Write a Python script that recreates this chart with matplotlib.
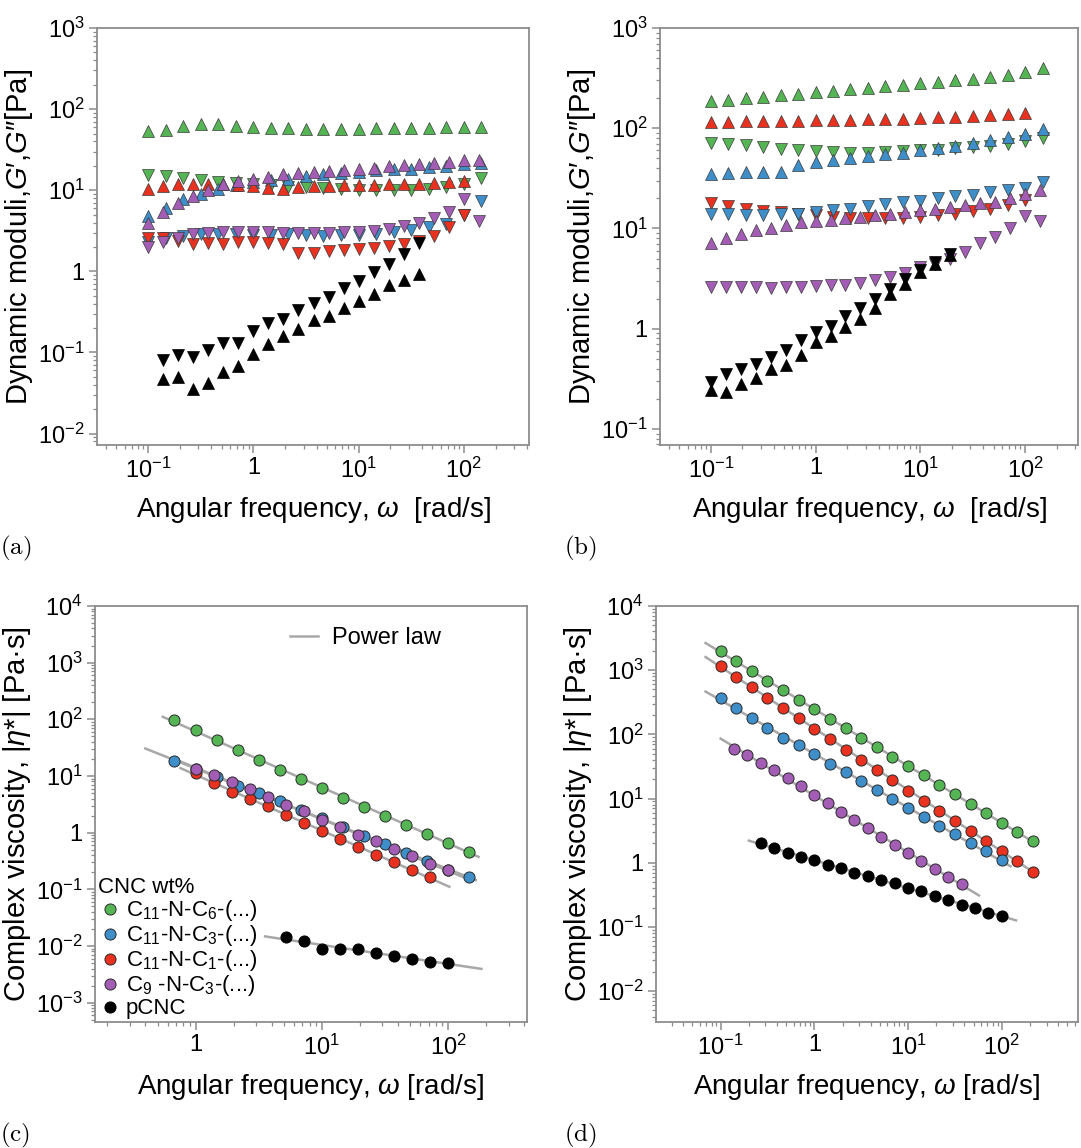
import numpy as np
import matplotlib
matplotlib.use("Agg")
import matplotlib.pyplot as plt
from matplotlib.ticker import LogLocator, FuncFormatter, NullFormatter
from matplotlib.lines import Line2D

plt.rcParams['font.family'] = ['Liberation Sans', 'DejaVu Sans']
plt.rcParams['mathtext.fontset'] = 'custom'
plt.rcParams['mathtext.rm'] = 'Liberation Sans'
plt.rcParams['mathtext.it'] = 'Liberation Sans:italic'
plt.rcParams['mathtext.bf'] = 'Liberation Sans:bold'

# ---------------- frequencies (rad/s) ----------------
w6 = [0.1, 0.147, 0.215, 0.316, 0.464, 0.681, 1.0, 1.47, 2.15, 3.16, 4.64, 6.81,
      10.0, 14.7, 21.5, 31.6, 46.4, 68.1, 100.0, 147.0, 215.0]
w7 = [0.1, 0.139, 0.193, 0.268, 0.373, 0.518, 0.72, 1.0, 1.39, 1.93, 2.68, 3.73,
      5.18, 7.2, 10.0, 13.9, 19.3, 26.8, 37.3, 51.8, 72.0, 100.0, 139.0]

# ---------------- panel (a): G' (up) and G'' (down) ----------------
a_green_w = w6[:20]
a_green_Gp = [54, 56, 62, 65, 65, 62, 60, 59, 58, 57, 57, 57, 57, 58, 58, 59, 59, 60, 60, 61]
a_green_Gpp = [15.3, 15, 14.2, 13.5, 12.8, 12.2, 11.8, 11.5, 11, 11, 10.8, 10.5, 10.2, 10.2,
               10, 10.2, 10.4, 11, 11.8, 14]
a_blue_w = w6[:20]
a_blue_Gp = [4.8, 6.1, 7.7, 9.1, 10.5, 11.5, 12.7, 13.3, 13.9, 14.9, 15.8, 16.4, 16.8, 17.7,
             18.5, 18.5, 19.4, 19.8, 21, 21.4]
a_blue_Gpp = [2.3, 2.6, 2.7, 2.86, 2.86, 2.86, 2.78, 2.78, 2.86, 2.78, 2.7, 2.78, 2.78, 2.92,
              3.06, 3.2, 3.5, 3.8, 4.9, 7.4]
a_red_w = w7[:22]
a_red_Gp = [10.5, 11.2, 11.8, 12.1, 12.1, 11.8, 11.5, 11.3, 10.8, 10.5, 11, 11.2, 11.2, 11.5,
            11.5, 11.5, 11.8, 12, 12.1, 12.4, 12.8, 13]
a_red_Gpp = [2.6, 2.6, 2.35, 2.15, 2.25, 2.2, 2.3, 2.3, 2.25, 2.15, 1.7, 1.7, 1.8, 1.85, 1.9,
             1.95, 2.05, 2.2, 2.4, 2.75, 3.5, 4.9]
a_purple_w = w7[:23]
a_purple_Gp = [3.95, 5.4, 7.0, 8.5, 10.2, 11.9, 13, 13.9, 14.6, 15.8, 16.1, 16.8, 17.3, 18,
               18.5, 19, 19.8, 20.4, 21, 21.7, 22.4, 23.4, 23.4]
a_purple_Gpp = [2.0, 2.3, 2.6, 2.86, 2.97, 3.03, 3.03, 3.03, 3.03, 2.97, 2.97, 2.97, 2.97, 3.03,
                3.06, 3.15, 3.37, 3.6, 3.9, 4.5, 5.4, 7.7, 4.2]
a_black_w = w7[1:19]
a_black_Gp = [0.047, 0.05, 0.035, 0.042, 0.057, 0.069, 0.096, 0.128, 0.158, 0.196, 0.254,
              0.278, 0.356, 0.43, 0.53, 0.67, 0.79, 0.94]
a_black_Gpp = [0.081, 0.094, 0.087, 0.108, 0.13, 0.13, 0.183, 0.23, 0.26, 0.33, 0.41, 0.48,
               0.63, 0.77, 0.98, 1.24, 1.62, 2.23]

# ---------------- panel (b) ----------------
b_green_w = w6[:20]
b_green_Gp = [185, 192, 200, 207, 214, 221, 229, 236, 244, 252, 261, 270, 280, 290, 301, 313,
              326, 342, 365, 400]
b_green_Gpp = [72, 70, 68, 65, 62, 60, 59, 58, 57, 57, 58, 59, 60, 61, 63, 65, 67, 70, 74, 80]
b_red_w = w6[:19]
b_red_Gp = [115, 116, 117, 118, 118, 119, 120, 121, 122, 123, 124, 125, 127, 128, 130, 132,
            135, 138, 142]
b_red_Gpp = [17.8, 16.7, 15.8, 14.9, 14.7, 14.1, 13.6, 13.1, 12.8, 12.8, 12.8, 12.8, 13.1,
             13.6, 14.1, 14.9, 15.8, 17.1, 19.2]
b_blue_w = w6[:20]
b_blue_Gp = [34.7, 35.5, 36.3, 37, 36.3, 43, 45.7, 48.3, 51, 53.3, 55, 56.2, 60, 63, 67, 71,
             76, 82, 88, 98]
b_blue_Gpp = [14.1, 13.8, 13.6, 13.6, 14.1, 14.1, 14.7, 15.3, 15.8, 16.9, 17.4, 18.5, 18.8,
              20, 21.3, 21.6, 22.9, 24.2, 25.6, 28.8]
b_purple_w = w7[:23]
b_purple_Gp = [7.24, 8.1, 8.9, 9.6, 10.2, 10.8, 11.5, 11.9, 12.1, 12.8, 13.1, 13.6, 13.8,
               14.7, 15.3, 15.8, 16.4, 17.1, 17.8, 18.5, 20.3, 21.9, 24.2]
b_purple_Gpp = [2.61, 2.61, 2.61, 2.61, 2.55, 2.61, 2.61, 2.67, 2.71, 2.75, 2.88, 3.04, 3.28,
                3.63, 4.14, 4.47, 4.94, 5.85, 7.24, 8.25, 10.2, 13.4, 11.8]
b_black_w = w7[:17]
b_black_Gp = [0.245, 0.236, 0.282, 0.32, 0.4, 0.43, 0.55, 0.74, 0.85, 1.04, 1.26, 1.62, 2.24,
              2.82, 3.7, 4.47, 5.4]
b_black_Gpp = [0.293, 0.355, 0.398, 0.447, 0.52, 0.62, 0.765, 0.93, 1.07, 1.34, 1.62, 2.0,
               2.5, 3.16, 3.83, 4.64, 5.6]

# ---------------- panel (c): complex viscosity ----------------
c_green_w = w6[5:20]
c_green_eta = [96, 64, 42.5, 28.2, 18.8, 12.9, 8.9, 6.1, 4.16, 2.88, 2.0, 1.39, 0.96, 0.665, 0.46]
c_blue_w = w6[5:20]
c_blue_eta = [18.3, 13.4, 9.7, 6.6, 5.0, 3.58, 2.55, 1.82, 1.26, 0.885, 0.64, 0.437, 0.31,
              0.22, 0.164]
c_red_w = w7[7:21]
c_red_eta = [11.4, 7.6, 5.17, 3.95, 2.92, 2.08, 1.48, 1.05, 0.77, 0.56, 0.41, 0.30, 0.22, 0.164]
c_purple_w = w7[7:22]
c_purple_eta = [13.4, 10.6, 7.8, 5.77, 4.28, 3.13, 2.38, 1.7, 1.26, 0.92, 0.70, 0.515, 0.38,
                0.282, 0.215]
c_black_w = w7[12:22]
c_black_eta = [0.0143, 0.0124, 0.00885, 0.0088, 0.0088, 0.0074, 0.0067, 0.006, 0.0053, 0.0051]
c_fit_range = {'green': (0.55, 174), 'blue': (0.40, 165), 'red': (0.76, 102),
               'purple': (0.76, 150), 'black': (3.55, 183)}

# ---------------- panel (d) ----------------
d_green_w = w6[:21]
d_green_eta = [1980, 1370, 963, 680, 487, 348, 246, 173, 124, 87.5, 62.7, 44.9, 32, 22.9, 16.4,
               11.7, 8.27, 5.9, 4.2, 3.0, 2.15]
d_red_w = w6[:21]
d_red_eta = [1155, 785, 548, 374, 258, 178, 123, 85.7, 57.7, 39.2, 28.1, 19.6, 13.3, 9.3, 6.5,
             4.53, 3.16, 2.2, 1.54, 1.05, 0.73]
d_blue_w = w6[:19]
d_blue_eta = [369, 261, 182, 127, 87.5, 67.3, 48.7, 34.8, 25.5, 18.6, 13.7, 9.75, 7.17, 5.23,
              3.79, 2.8, 2.0, 1.5, 1.1]
d_purple_w = w7[1:19]
d_purple_eta = [59.8, 47, 35.6, 27.4, 20.7, 15.4, 11.5, 8.57, 6.27, 4.65, 3.43, 2.48, 1.89,
                1.42, 1.07, 0.8, 0.6, 0.465]
d_black_w = w7[3:22]
d_black_eta = [2.0, 1.70, 1.40, 1.24, 1.10, 0.93, 0.83, 0.70, 0.63, 0.54, 0.475, 0.40, 0.357,
               0.305, 0.26, 0.22, 0.196, 0.167, 0.149]
d_fit_range = {'green': (0.069, 238), 'red': (0.069, 238), 'blue': (0.069, 124),
               'purple': (0.1, 57), 'black': (0.2, 142)}

legend_labels = [r"C$_{11}$-N-C$_{6}$-(...)", r"C$_{11}$-N-C$_{3}$-(...)",
                 r"C$_{11}$-N-C$_{1}$-(...)", r"C$_{9}$ -N-C$_{3}$-(...)", "pCNC"]

COL = {'green': '#55b555', 'blue': '#3d8ec9', 'red': '#e8311f', 'purple': '#a35db5',
       'black': '#000000'}
SPINE = '#8c8c8c'
FIT = '#a8a8a8'

fig = plt.figure(figsize=(10.81, 11.48), dpi=100)


def fmt(v, pos):
    e = int(round(np.log10(v)))
    if e == 0:
        return '1'
    return r'$10^{%d}$' % e


def style(ax, xlim, ylim):
    ax.set_xscale('log')
    ax.set_yscale('log')
    ax.set_xlim(*xlim)
    ax.set_ylim(*ylim)
    for s in ax.spines.values():
        s.set_color(SPINE)
        s.set_linewidth(1.3)
    for axis in (ax.xaxis, ax.yaxis):
        axis.set_major_locator(LogLocator(base=10, numticks=20))
        axis.set_minor_locator(LogLocator(base=10, subs=np.arange(2, 10), numticks=20))
        axis.set_major_formatter(FuncFormatter(fmt))
        axis.set_minor_formatter(NullFormatter())
    ax.tick_params(which='major', direction='out', length=6, width=1.1, color=SPINE,
                   labelsize=17, pad=3)
    ax.tick_params(which='minor', direction='out', length=3, width=0.9, color=SPINE)


def tri(ax, w, gp, gpp, c):
    ec = '#000000' if c == 'black' else '#3a3a3a'
    ax.plot(w, gp, linestyle='none', marker='^', ms=8.5, mfc=COL[c], mec=ec, mew=0.5, zorder=3)
    ax.plot(w, gpp, linestyle='none', marker='v', ms=8.5, mfc=COL[c], mec=ec, mew=0.5, zorder=3)


def circ(ax, w, eta, c, rng):
    lw_, le_ = np.log10(w), np.log10(eta)
    k, b0 = np.polyfit(lw_, le_, 1)
    xs = np.logspace(np.log10(rng[0]), np.log10(rng[1]), 50)
    ax.plot(xs, 10 ** (k * np.log10(xs) + b0), color=FIT, lw=1.8, zorder=2)
    ec = '#000000' if c == 'black' else '#2a2a2a'
    h, = ax.plot(w, eta, linestyle='none', marker='o', ms=8, mfc=COL[c], mec=ec, mew=0.7,
                 zorder=3)
    return h


xl_top = r"Angular frequency, $\omega$  [rad/s]"
xl_bot = r"Angular frequency, $\omega$ [rad/s]"
yl_top = "Dynamic moduli,$G$\u2032,$G$\u2033[Pa]"
yl_bot = "Complex viscosity, |$\\eta$*| [Pa\u00b7s]"
XFS, YFS = 20, 21

# (a)
axa = fig.add_axes([0.0897, 0.6124, 0.3996, 0.3632])
style(axa, (0.0327, 415), (10 ** -2.14, 1000))
tri(axa, a_green_w, a_green_Gp, a_green_Gpp, 'green')
tri(axa, a_blue_w, a_blue_Gp, a_blue_Gpp, 'blue')
tri(axa, a_red_w, a_red_Gp, a_red_Gpp, 'red')
tri(axa, a_purple_w, a_purple_Gp, a_purple_Gpp, 'purple')
tri(axa, a_black_w, a_black_Gp, a_black_Gpp, 'black')
axa.set_xlabel(xl_top, fontsize=XFS, labelpad=9)
axa.set_ylabel(yl_top, fontsize=YFS, labelpad=2)

# (b)
axb = fig.add_axes([0.6105, 0.6124, 0.3867, 0.3632])
style(axb, (0.0327, 320), (10 ** -1.16, 1000))
tri(axb, b_green_w, b_green_Gp, b_green_Gpp, 'green')
tri(axb, b_red_w, b_red_Gp, b_red_Gpp, 'red')
tri(axb, b_blue_w, b_blue_Gp, b_blue_Gpp, 'blue')
tri(axb, b_purple_w, b_purple_Gp, b_purple_Gpp, 'purple')
tri(axb, b_black_w, b_black_Gp, b_black_Gpp, 'black')
axb.set_xlabel(xl_top, fontsize=XFS, labelpad=9)
axb.set_ylabel(yl_top, fontsize=YFS, labelpad=2)

# (c)
axc = fig.add_axes([0.0879, 0.1098, 0.3996, 0.3624])
style(axc, (0.16, 420), (10 ** -3.34, 1e4))
hc = [circ(axc, c_green_w, c_green_eta, 'green', c_fit_range['green']),
      circ(axc, c_blue_w, c_blue_eta, 'blue', c_fit_range['blue']),
      circ(axc, c_red_w, c_red_eta, 'red', c_fit_range['red']),
      circ(axc, c_purple_w, c_purple_eta, 'purple', c_fit_range['purple']),
      circ(axc, c_black_w, c_black_eta, 'black', c_fit_range['black'])]
axc.set_xlabel(xl_bot, fontsize=XFS, labelpad=9)
axc.set_ylabel(yl_bot, fontsize=YFS, labelpad=2)
leg1 = axc.legend(hc, legend_labels, title="CNC wt%", loc='lower left',
                  bbox_to_anchor=(-0.008, -0.01), frameon=False, fontsize=16,
                  title_fontsize=16, alignment='left', handletextpad=0.15,
                  labelspacing=0.0, borderpad=0.1, handlelength=1.1, borderaxespad=0.2)
axc.add_artist(leg1)
axc.legend([Line2D([0], [0], color=FIT, lw=1.8)], ["Power law"], loc='upper right',
           bbox_to_anchor=(0.85, 1.0), frameon=False, fontsize=17, handlelength=1.2,
           handletextpad=0.6)

# (d)
axd = fig.add_axes([0.6068, 0.1098, 0.3904, 0.3624])
style(axd, (0.0204, 650), (10 ** -2.48, 1e4))
circ(axd, d_green_w, d_green_eta, 'green', d_fit_range['green'])
circ(axd, d_red_w, d_red_eta, 'red', d_fit_range['red'])
circ(axd, d_blue_w, d_blue_eta, 'blue', d_fit_range['blue'])
circ(axd, d_purple_w, d_purple_eta, 'purple', d_fit_range['purple'])
circ(axd, d_black_w, d_black_eta, 'black', d_fit_range['black'])
axd.set_xlabel(xl_bot, fontsize=XFS, labelpad=9)
axd.set_ylabel(yl_bot, fontsize=YFS, labelpad=2)

for txt, x, y in [('(a)', 0.0, 1 - 548 / 1148), ('(b)', 0.522, 1 - 548 / 1148),
                  ('(c)', 0.0, 1 - 1135 / 1148), ('(d)', 0.522, 1 - 1135 / 1148)]:
    fig.text(x, y, r'$\mathrm{%s}$' % txt, math_fontfamily='cm', fontsize=18,
             ha='left', va='center')

fig.savefig('out.png', dpi=100)
